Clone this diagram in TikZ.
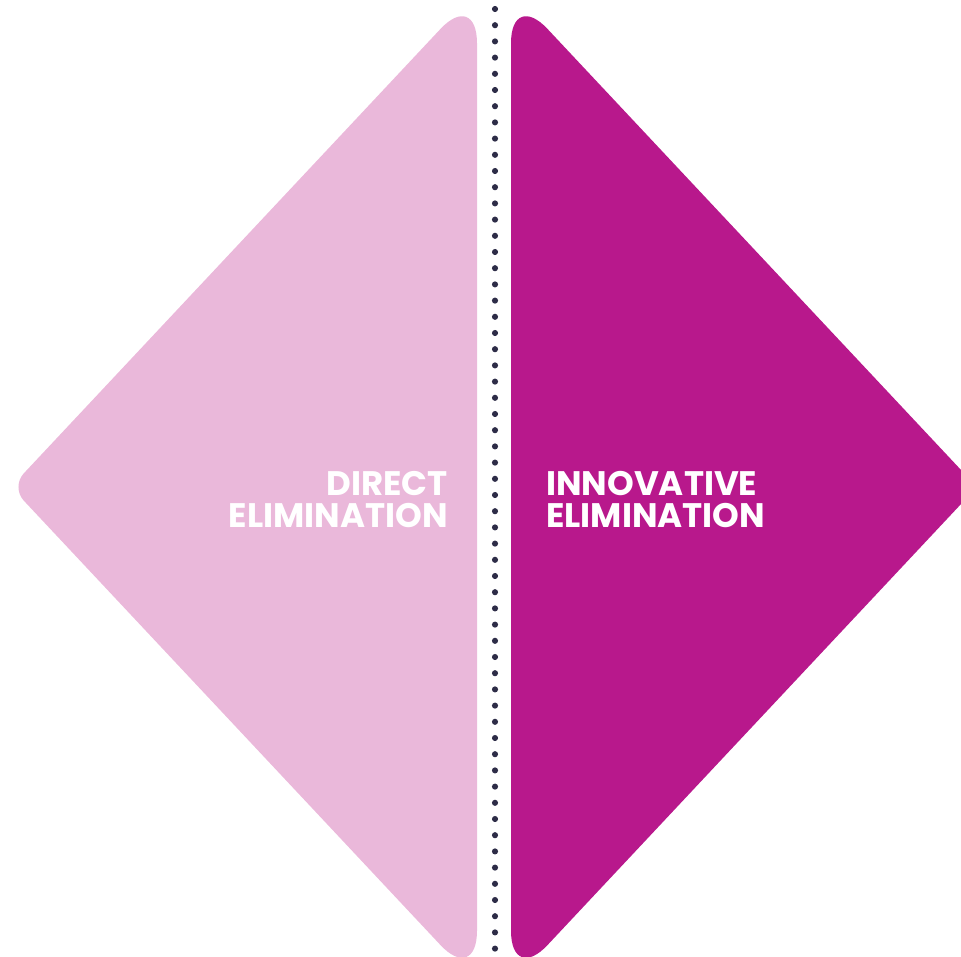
\documentclass[tikz,border=0pt]{standalone}
\usepackage{fontspec}
\setsansfont{Poppins}

\definecolor{softpink}{HTML}{EAB8DA}
\definecolor{deepmagenta}{HTML}{B8188C}
\definecolor{dotnavy}{HTML}{2D2C47}

\tikzset{
    sharp end/.style={rounded corners=40pt},
    blunt tip/.style={rounded corners=14pt},
    caption/.style={text=white, inner sep=0pt,
        font=\sffamily\bfseries\fontsize{25.5}{24}\selectfont},
}

\begin{document}
\begin{tikzpicture}[x=0.75pt, y=-0.75pt]
    \useasboundingbox (0,0) rectangle (961,957);
    \clip (0,0) rectangle (961,957);

    % left half
    \coordinate(LM)at(477, 487);
    \coordinate(LT)at(477, -10);
    \coordinate(LB)at(477, 984);
    \coordinate(LA)at(11, 487);
    % right half
    \coordinate(RM)at(511, 487);
    \coordinate(RT)at(511, -10);
    \coordinate(RB)at(511, 984);
    \coordinate(RA)at(977, 487);

    \fill[softpink](LM)[sharp end]--(LB)[blunt tip]--(LA)[sharp end]--(LT)--cycle;
    \fill[deepmagenta](RM)[sharp end]--(RT)[blunt tip]--(RA)[sharp end]--(RB)--cycle;

    % dotted divider
    \foreach \k in {0,...,58}
        \fill[dotnavy](495, {9+16.2*\k}) circle (2.3pt);

    \node[caption, anchor=north east, align=right](direct)at(448, 471){DIRECT\\ELIMINATION};
    \node[caption, anchor=north west, align=left](innov)at(546, 471){INNOVATIVE\\ELIMINATION};
\end{tikzpicture}
\end{document}
